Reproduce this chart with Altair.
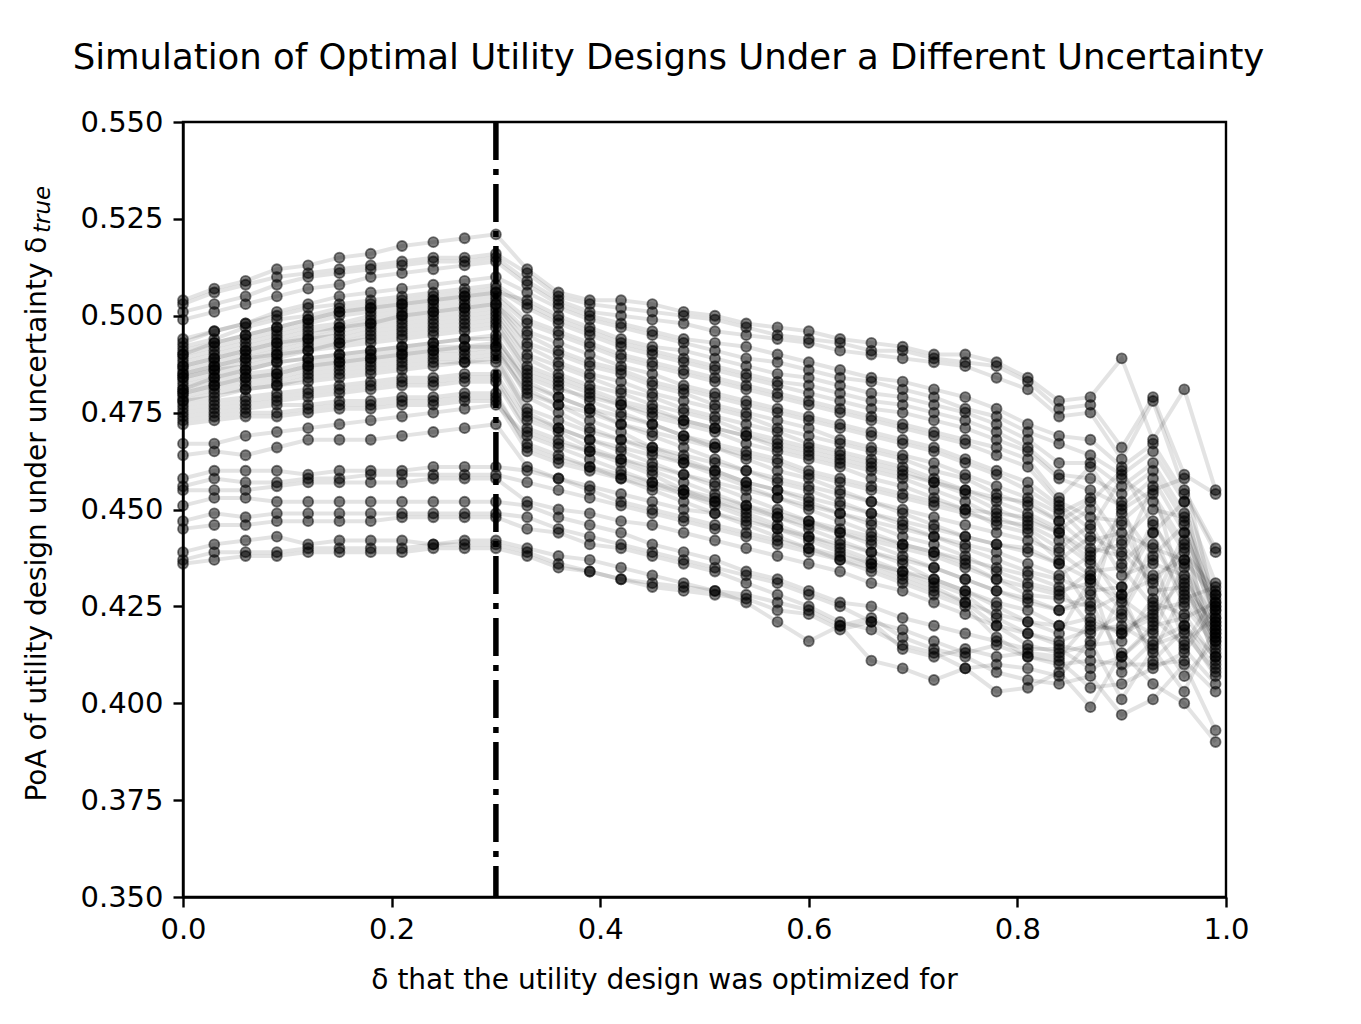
import altair as alt
import pandas as pd

# x positions (delta the design was optimized for)
deltas = [0.00, 0.03, 0.06, 0.09, 0.12, 0.15, 0.18, 0.21, 0.24, 0.27, 0.30,
          0.33, 0.36, 0.39, 0.42, 0.45, 0.48, 0.51, 0.54, 0.57, 0.60, 0.63,
          0.66, 0.69, 0.72, 0.75, 0.78, 0.81, 0.84, 0.87, 0.90, 0.93, 0.96, 0.99]

# PoA values, in thousandths, one list per simulated design
s01 = [504,507,509,512,513,515,516,518,519,520,521, 512,506,504,504,503,501,500,498,497,496,494,493,492,490,490,488,484, 478,479,489,468,481,455]
s02 = [503,506,508,510,511,512,513,514,515,515,516, 511,505,503,502,501,500,499,497,495,494,493,491,491,489,488,487,483, 476,477,466,479,459,454]
s03 = [501,503,505,508,510,511,512,513,514,514,515, 509,504,501,500,499,498,496,495,494,493,491,490,489,488,487,484,481, 474,475,463,478,455,440]
s04 = [499,501,503,505,507,508,510,511,512,513,514, 508,503,500,498,496,494,493,492,490,488,486,484,483,481,479,476,472, 469,468,461,467,454,439]
s05 = [494,496,498,501,503,505,506,507,508,509,510, 506,502,499,497,495,493,491,489,488,486,484,483,481,479,476,474,470, 467,464,459,465,452,431]
s06 = [490,493,495,497,499,501,502,503,504,505,506, 504,500,497,494,492,491,489,487,485,484,482,480,479,477,475,472,468, 462,462,456,462,449,428]
s07 = [493,496,498,500,502,503,504,505,506,507,508, 503,499,496,493,491,489,487,485,483,482,480,478,477,475,473,470,466, 459,458,454,460,447,426]
s08 = [492,494,497,499,500,502,503,504,505,506,507, 502,498,495,492,490,488,486,484,482,480,478,476,475,473,471,468,465, 458,455,451,458,444,425]
s09 = [491,493,495,497,499,501,502,503,504,505,506, 499,496,493,490,488,486,484,482,480,478,476,474,472,470,468,466,463, 453,461,450,455,458,424]
s10 = [490,492,494,496,498,500,501,502,503,504,505, 498,495,492,489,487,485,483,481,479,477,475,473,471,469,467,464,461, 452,448,447,454,441,423]
s11 = [489,491,493,495,497,498,500,501,502,503,504, 496,493,490,487,485,482,480,478,476,474,472,470,468,466,463,460,457, 451,445,458,452,439,429]
s12 = [488,490,492,494,496,497,499,500,501,502,503, 495,491,488,486,483,481,479,477,475,473,471,469,467,465,462,459,455, 450,442,444,440,437,427]
s13 = [487,489,491,493,495,497,498,500,501,502,503, 493,490,487,485,482,480,477,475,473,471,468,466,464,462,459,456,453, 449,453,442,450,448,422]
s14 = [487,489,491,493,494,496,498,499,500,501,502, 492,488,485,483,480,478,476,474,471,469,467,465,463,460,458,454,451, 447,452,460,446,435,421]
s15 = [486,488,490,492,494,495,497,498,499,500,501, 490,487,484,481,479,476,474,472,470,467,465,463,461,458,455,452,449, 445,450,436,444,452,420]
s16 = [485,487,489,491,493,494,496,497,498,499,500, 489,485,482,480,477,475,473,470,468,466,464,462,460,457,454,450,447, 444,437,449,438,446,419]
s17 = [485,487,489,490,492,493,495,496,497,498,499, 487,484,481,478,476,473,471,469,466,464,462,460,458,455,452,448,445, 440,446,433,436,433,418]
s18 = [484,486,488,490,491,493,494,495,496,497,498, 486,483,480,477,474,472,470,467,465,463,461,458,456,453,450,446,444, 437,443,439,431,440,417]
s19 = [484,486,487,489,491,492,493,494,495,496,497, 485,482,478,475,472,469,466,463,460,458,455,452,449,446,443,441,439, 436,432,446,429,430,416]
s20 = [483,485,486,488,489,490,491,492,493,494,494, 484,481,479,477,475,473,471,469,467,465,463,461,459,457,455,453,452, 447,440,438,456,427,430]
s21 = [482,484,485,486,488,489,490,491,492,492,493, 483,479,476,472,469,466,463,460,457,455,452,449,446,443,440,437,434, 432,429,430,444,425,415]
s22 = [481,484,486,488,489,490,491,492,493,494,495, 482,479,476,474,472,469,467,465,463,460,458,456,454,452,450,449,448, 444,439,441,433,437,414]
s23 = [481,483,484,485,487,488,489,490,491,491,492, 481,477,473,470,466,463,460,457,455,452,449,446,443,441,438,434,431, 429,431,427,421,442,413]
s24 = [480,482,483,484,486,487,488,489,490,490,491, 480,477,475,472,470,468,466,464,462,459,457,455,453,451,449,447,446, 442,436,430,447,431,412]
s25 = [480,482,484,485,487,488,489,490,491,492,492, 479,475,471,468,465,462,459,456,453,450,447,444,441,439,436,432,428, 427,425,452,426,423,411]
s26 = [479,481,482,483,485,486,487,488,489,489,490, 476,473,470,468,466,464,462,460,458,456,454,452,450,448,446,444,442, 439,433,424,441,428,418]
s27 = [478,480,481,482,484,485,486,487,488,488,489, 475,471,468,465,462,459,456,453,450,447,444,441,438,435,432,429,426, 424,428,422,418,436,410]
s28 = [478,479,481,482,483,484,485,486,487,488,488, 474,471,468,466,464,462,460,457,455,453,451,449,447,445,443,441,440, 436,424,428,432,420,409]
s29 = [477,478,479,480,481,482,483,484,484,485,485, 473,470,466,463,460,457,454,451,448,445,442,439,436,432,429,425,421, 420,422,418,424,426,417]
s30 = [476,477,478,479,480,481,482,483,483,484,484, 471,468,465,462,459,455,452,449,446,443,440,437,434,431,428,422,418, 416,419,420,415,418,408]
s31 = [475,476,477,478,479,480,481,482,482,483,483, 470,467,465,463,461,459,457,455,453,451,449,447,445,443,441,439,436, 433,438,426,413,429,421]
s32 = [467,467,469,470,471,472,473,474,475,476,477, 469,466,463,460,457,454,451,448,445,442,439,436,433,430,426,420,415, 413,415,416,427,414,405]
s33 = [474,475,476,477,477,478,478,479,479,480,480, 466,463,461,459,457,455,453,451,449,447,445,443,441,439,437,435,433, 430,420,419,423,432,419]
s34 = [473,474,475,475,476,477,477,478,478,479,479, 467,464,461,458,455,452,449,446,443,440,437,434,431,428,425,417,412, 410,411,410,410,411,403]
s35 = [472,473,474,474,475,476,476,477,477,478,478, 465,462,460,458,456,454,452,450,448,446,444,442,440,438,435,432,430, 428,434,435,425,444,424]
s36 = [464,465,464,466,468,468,468,469,470,471,472, 461,458,456,454,452,450,449,447,445,443,441,439,437,435,432,429,427, 424,426,412,420,422,426]
s37 = [458,460,460,460,459,460,460,460,461,461,461, 460,458,455,452,450,448,446,444,442,440,438,436,434,432,429,426,424, 420,418,423,437,416,422]
s38 = [456,458,457,457,458,458,459,459,459,459,459, 457,455,453,451,449,447,445,443,441,439,437,435,432,429,426,423,421, 418,432,408,416,420,412]
s39 = [455,455,455,456,457,457,457,457,458,458,458, 452,450,449,447,446,444,442,440,438,436,434,431,429,426,423,420,418, 415,413,428,411,419,407]
s40 = [451,453,453,452,452,452,452,452,452,452,452, 451,448,446,444,441,439,437,434,432,429,426,425,422,420,418,416,414, 414,409,412,419,407,416]
s41 = [447,449,448,449,449,449,449,449,449,449,449, 448,445,443,441,439,437,435,433,431,428,425,421,419,416,413,415,412, 411,404,405,409,413,425]
s42 = [445,446,446,447,447,447,447,448,448,448,448, 445,444,441,440,438,436,434,431,428,425,421,419,415,413,409,410,409, 407,416,401,414,403,420]
s43 = [439,441,442,443,441,442,442,442,441,442,442, 440,438,437,435,433,431,429,428,426,424,420,422,417,414,412,408,406, 405,407,397,401,410,393]
s44 = [437,439,439,439,440,440,440,440,441,441,441, 439,436,434,432,431,430,429,426,421,416,420,411,409,406,409,403,404, 408,399,413,405,400,390]
s45 = [436,437,438,438,439,439,439,439,440,440,440, 438,435,434,432,430,429,428,427,424,423,419,421,414,412,414,412,413, 412,421,418,422,415,428]

series = [s01, s02, s03, s04, s05, s06, s07, s08, s09, s10, s11, s12, s13, s14, s15,
          s16, s17, s18, s19, s20, s21, s22, s23, s24, s25, s26, s27, s28, s29, s30,
          s31, s32, s33, s34, s35, s36, s37, s38, s39, s40, s41, s42, s43, s44, s45]

x_ticks = [0.0, 0.2, 0.4, 0.6, 0.8, 1.0]
y_ticks = [0.350, 0.375, 0.400, 0.425, 0.450, 0.475, 0.500, 0.525, 0.550]
design_delta = [0.3]
subscript = ["true"]

rows = []
for i, s in enumerate(series):
    assert len(s) == len(deltas)
    for xv, yv in zip(deltas, s):
        rows.append({"run": i, "delta": xv, "poa": yv / 1000.0})
df = pd.DataFrame(rows)

FONT = "DejaVu Sans"

xs = alt.Scale(domain=[0, 1], nice=False, zero=False)
ys = alt.Scale(domain=[0.35, 0.55], nice=False, zero=False)

x_axis = alt.Axis(values=x_ticks, format=".1f", labelFlush=False,
                  title="δ that the utility design was optimized for",
                  titleX=481, titleY=83, titleAlign="center", titleBaseline="middle",
                  labelPadding=8)
y_axis = alt.Axis(values=y_ticks, format=".3f", labelFlush=False,
                  title="PoA of utility design under uncertainty δ",
                  titleX=-138, titleY=114, titleAngle=-90, titleAlign="right",
                  titleBaseline="alphabetic", labelPadding=10)

base = alt.Chart(df)

lines = base.mark_line(color="black", opacity=0.11, strokeWidth=4).encode(
    x=alt.X("delta:Q", scale=xs, axis=x_axis),
    y=alt.Y("poa:Q", scale=ys, axis=y_axis),
    detail="run:N",
)

points = base.mark_point(shape="circle", filled=True, fill="black", fillOpacity=0.5,
                         stroke="black", strokeOpacity=0.5, strokeWidth=1.8,
                         size=100).encode(
    x=alt.X("delta:Q", scale=xs),
    y=alt.Y("poa:Q", scale=ys),
)

vline = alt.Chart(pd.DataFrame({"d": design_delta})).mark_rule(
    color="black", strokeWidth=5.5, strokeDash=[38, 9, 6, 9], strokeCap="butt"
).encode(x=alt.X("d:Q", scale=xs))

sub = alt.Chart(pd.DataFrame({"t": subscript})).mark_text(
    font=FONT, fontSize=23, fontStyle="italic", color="black",
    angle=270, align="left", baseline="alphabetic"
).encode(text="t:N", x=alt.value(-133), y=alt.value(111))

chart = alt.layer(lines, points, vline, sub).properties(
    width=1043, height=775,
    autosize=alt.AutoSizeParams(type="none"),
    padding={"left": 175, "top": 114, "right": 120, "bottom": 110},
    title=alt.TitleParams(
        text="Simulation of Optimal Utility Designs Under a Different Uncertainty",
        font=FONT, fontSize=35.5, fontWeight="normal", color="black",
        anchor="middle", dx=-36, offset=32,
    ),
).configure_view(
    stroke="black", strokeWidth=2.4
).configure_axis(
    grid=False,
    domainColor="black", domainWidth=2.4,
    tickColor="black", tickWidth=2.4, tickSize=10,
    labelFont="DejaVu Sans", labelFontSize=29, labelColor="black",
    titleFont=FONT, titleFontSize=28, titleFontWeight="normal", titleColor="black",
)

chart.save("out.html", embed_options={"renderer": "svg", "actions": False})
